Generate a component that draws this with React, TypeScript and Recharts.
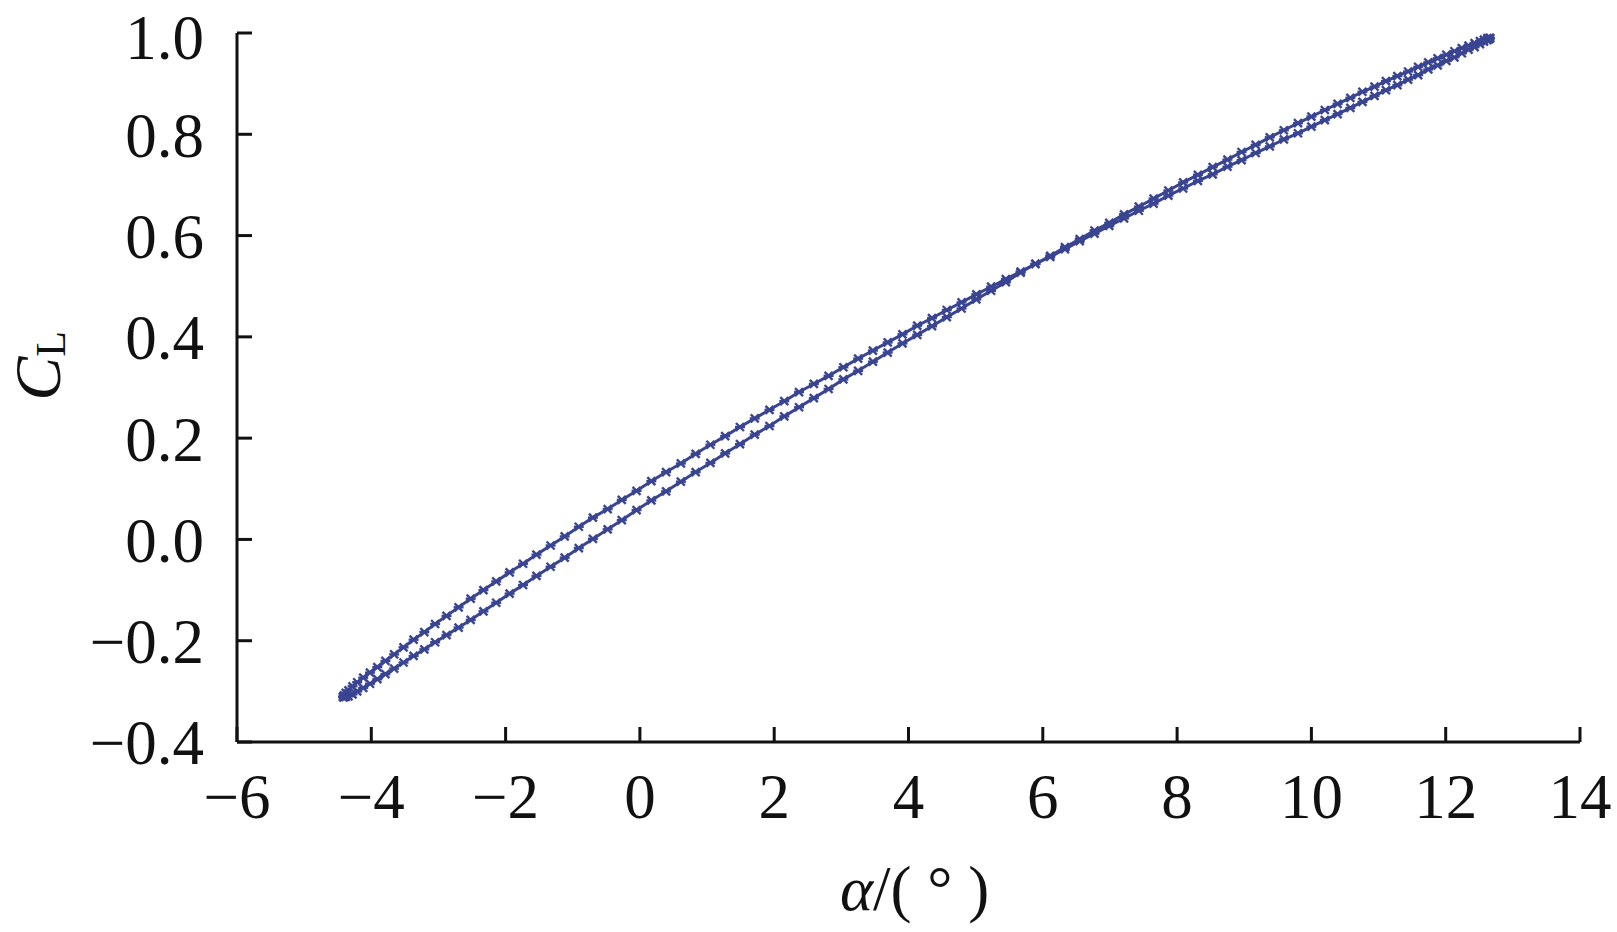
import { ScatterChart, Scatter, XAxis, YAxis, Label } from "recharts";

// angle of attack samples (deg), shared by both strokes of the loop
const alphaSteps = [
  -4.42, -4.41, -4.38, -4.34, -4.28, -4.21, -4.12, -4.02, -3.91, -3.79,
  -3.66, -3.52, -3.37, -3.21, -3.05, -2.88, -2.7, -2.52, -2.33, -2.14,
  -1.94, -1.74, -1.54, -1.33, -1.12, -0.91, -0.7, -0.48, -0.27, -0.05,
  0.17, 0.39, 0.61, 0.83, 1.05, 1.27, 1.49, 1.71, 1.93, 2.15,
  2.37, 2.59, 2.81, 3.03, 3.25, 3.47, 3.69, 3.91, 4.13, 4.35,
  4.57, 4.79, 5.01, 5.23, 5.45, 5.67, 5.89, 6.11, 6.33, 6.55,
  6.77, 6.99, 7.21, 7.43, 7.65, 7.87, 8.09, 8.31, 8.53, 8.75,
  8.96, 9.17, 9.38, 9.59, 9.8, 10.0, 10.2, 10.39, 10.58, 10.76,
  10.94, 11.11, 11.28, 11.44, 11.59, 11.74, 11.88, 12.01, 12.13, 12.24,
  12.34, 12.43, 12.51, 12.57, 12.62, 12.65, 12.66,
];

// upstroke CL
const clUp = [
  -0.311, -0.312, -0.311, -0.31, -0.306, -0.3, -0.293, -0.285, -0.276, -0.266,
  -0.255, -0.243, -0.23, -0.217, -0.203, -0.189, -0.174, -0.159, -0.142, -0.125,
  -0.107, -0.09, -0.072, -0.054, -0.036, -0.017, 0.001, 0.02, 0.038, 0.058,
  0.077, 0.095, 0.114, 0.133, 0.151, 0.17, 0.188, 0.207, 0.224, 0.243,
  0.261, 0.279, 0.297, 0.316, 0.333, 0.351, 0.369, 0.387, 0.404, 0.421,
  0.439, 0.456, 0.474, 0.491, 0.508, 0.527, 0.544, 0.56, 0.577, 0.593,
  0.61, 0.625, 0.642, 0.657, 0.673, 0.689, 0.705, 0.72, 0.735, 0.75,
  0.765, 0.779, 0.794, 0.808, 0.822, 0.835, 0.848, 0.86, 0.872, 0.884,
  0.894, 0.905, 0.915, 0.924, 0.933, 0.942, 0.95, 0.957, 0.964, 0.97,
  0.975, 0.98, 0.984, 0.987, 0.99, 0.99, 0.99,
];

// downstroke CL
const clDown = [
  -0.311, -0.308, -0.303, -0.298, -0.29, -0.282, -0.273, -0.263, -0.252, -0.24,
  -0.227, -0.213, -0.198, -0.183, -0.167, -0.151, -0.134, -0.117, -0.1, -0.083,
  -0.065, -0.048, -0.03, -0.012, 0.006, 0.025, 0.043, 0.06, 0.078, 0.096,
  0.115, 0.133, 0.15, 0.169, 0.187, 0.204, 0.222, 0.239, 0.256, 0.273,
  0.291, 0.307, 0.323, 0.34, 0.357, 0.373, 0.389, 0.405, 0.422, 0.437,
  0.453, 0.468, 0.484, 0.499, 0.514, 0.529, 0.544, 0.558, 0.573, 0.589,
  0.604, 0.619, 0.634, 0.649, 0.663, 0.679, 0.693, 0.708, 0.721, 0.736,
  0.749, 0.763, 0.776, 0.79, 0.802, 0.815, 0.828, 0.84, 0.852, 0.864,
  0.876, 0.887, 0.897, 0.908, 0.917, 0.928, 0.936, 0.945, 0.952, 0.96,
  0.967, 0.972, 0.978, 0.983, 0.986, 0.988, 0.99,
];

const xTicks = [-6, -4, -2, 0, 2, 4, 6, 8, 10, 12, 14];
const yTicks = [-0.4, -0.2, 0, 0.2, 0.4, 0.6, 0.8, 1.0];

const loop = [
  ...alphaSteps.map((a, i) => ({ alpha: a, cl: clUp[i] })),
  ...alphaSteps.map((a, i) => ({ alpha: a, cl: clDown[i] })).reverse(),
];

const BLUE = "#3a4592";
const FONT = '"Liberation Serif", "Times New Roman", Times, serif';

const minus = (s: string) => s.replace("-", "\u2212");

function CrossMark(props: any) {
  const { cx, cy } = props;
  if (cx == null || cy == null) return null;
  return (
    <g stroke={BLUE} strokeWidth={2.4}>
      <line x1={cx - 4} y1={cy - 4} x2={cx + 4} y2={cy + 4} />
      <line x1={cx - 4} y1={cy + 4} x2={cx + 4} y2={cy - 4} />
      <line x1={cx - 5} y1={cy} x2={cx + 5} y2={cy} />
    </g>
  );
}

export default function App() {
  return (
    <div style={{ position: "absolute", left: 0, top: 0, background: "#fff" }}>
      <ScatterChart
        width={1617}
        height={932}
        margin={{ top: 33, right: 37, bottom: 0, left: 0 }}
      >
        <XAxis
          type="number"
          dataKey="alpha"
          domain={[-6, 14]}
          ticks={xTicks}
          height={190}
          stroke="#111"
          strokeWidth={3}
          tickSize={-15}
          tickMargin={46}
          tick={{ fill: "#111", fontSize: 63, fontFamily: FONT }}
          tickFormatter={(v: number) => minus(String(v))}
        >
          <Label
            content={({ viewBox }: any) => (
              <text
                x={viewBox.x + viewBox.width / 2 + 6}
                y={910}
                textAnchor="middle"
                fontFamily={FONT}
                fontSize={63}
                fill="#111"
              >
                <tspan fontStyle="italic">α</tspan>
                <tspan>/( ° )</tspan>
              </text>
            )}
          />
        </XAxis>
        <YAxis
          type="number"
          dataKey="cl"
          domain={[-0.4, 1.0]}
          ticks={yTicks}
          width={237}
          stroke="#111"
          strokeWidth={3}
          tickSize={-15}
          tickMargin={48}
          tick={{ fill: "#111", fontSize: 63, fontFamily: FONT }}
          tickFormatter={(v: number) => minus(v.toFixed(1))}
        >
          <Label
            content={() => (
              <text
                transform="translate(60, 366) rotate(-90)"
                textAnchor="middle"
                fontFamily={FONT}
                fill="#111"
              >
                <tspan fontSize={66} fontStyle="italic">C</tspan>
                <tspan fontSize={42} dy={5}>L</tspan>
              </text>
            )}
          />
        </YAxis>
        <Scatter
          data={loop}
          line={{ stroke: BLUE, strokeWidth: 3 }}
          lineType="joint"
          shape={CrossMark}
          isAnimationActive={false}
        />
      </ScatterChart>
    </div>
  );
}
